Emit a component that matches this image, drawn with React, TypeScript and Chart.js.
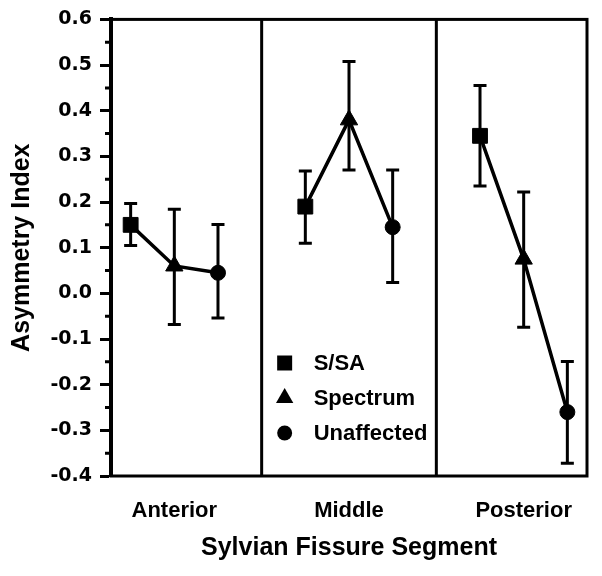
import React, { useEffect, useRef } from 'react';
import { Chart, registerables } from 'chart.js';

Chart.register(...registerables);

// ---- data ----
const categories = ['Anterior', 'Middle', 'Posterior'];
const seriesNames = ['S/SA', 'Spectrum', 'Unaffected'];
const seriesStyles = ['rect', 'triangle', 'circle'];

const ssaMeans = [0.15, 0.19, 0.345];
const ssaLower = [0.105, 0.11, 0.235];
const ssaUpper = [0.197, 0.268, 0.455];

const spectrumMeans = [0.06, 0.38, 0.075];
const spectrumLower = [-0.068, 0.27, -0.074];
const spectrumUpper = [0.184, 0.508, 0.222];

const unaffectedMeans = [0.045, 0.145, -0.26];
const unaffectedLower = [-0.054, 0.024, -0.372];
const unaffectedUpper = [0.151, 0.27, -0.149];

const yTicks = [-0.4, -0.3, -0.2, -0.1, 0.0, 0.1, 0.2, 0.3, 0.4, 0.5, 0.6];
const yMinorTicks = [-0.35, -0.25, -0.15, -0.05, 0.05, 0.15, 0.25, 0.35, 0.45, 0.55];

const means = [ssaMeans, spectrumMeans, unaffectedMeans];
const lowers = [ssaLower, spectrumLower, unaffectedLower];
const uppers = [ssaUpper, spectrumUpper, unaffectedUpper];

// x layout: each segment occupies 4 units; series offset 0,1,2 inside it
const GROUP = 4;
const xOf = (ci: number, si: number) => ci * GROUP + si;
const dividers = [GROUP - 1, 2 * GROUP - 1];

const FONT = 'Liberation Sans, Arial, Helvetica, sans-serif';
const radiusFor: Record<string, number> = { rect: 10.5, triangle: 10, circle: 7.5 };

function drawMarker(ctx: CanvasRenderingContext2D, style: string, x: number, y: number) {
  ctx.beginPath();
  if (style === 'rect') {
    ctx.rect(x - 7.5, y - 7.5, 15, 15);
  } else if (style === 'triangle') {
    const r = 10;
    ctx.moveTo(x, y - r);
    ctx.lineTo(x + r * Math.sin(Math.PI / 3), y + r / 2);
    ctx.lineTo(x - r * Math.sin(Math.PI / 3), y + r / 2);
    ctx.closePath();
  } else {
    ctx.arc(x, y, 7.5, 0, Math.PI * 2);
  }
  ctx.fill();
}

const errorBarPlugin = {
  id: 'errorBars',
  beforeDatasetsDraw(chart: any) {
    const { ctx } = chart;
    const x = chart.scales.x;
    const y = chart.scales.y;
    ctx.save();
    ctx.strokeStyle = '#000';
    ctx.lineWidth = 3;
    ctx.lineCap = 'butt';
    means.forEach((_, si) => {
      categories.forEach((__, ci) => {
        const px = x.getPixelForValue(xOf(ci, si));
        const yl = y.getPixelForValue(lowers[si][ci]);
        const yu = y.getPixelForValue(uppers[si][ci]);
        ctx.beginPath();
        ctx.moveTo(px, yl);
        ctx.lineTo(px, yu);
        ctx.moveTo(px - 6.5, yl);
        ctx.lineTo(px + 6.5, yl);
        ctx.moveTo(px - 6.5, yu);
        ctx.lineTo(px + 6.5, yu);
        ctx.stroke();
      });
    });
    ctx.restore();
  },
};

const framePlugin = {
  id: 'frame',
  afterDatasetsDraw(chart: any) {
    const { ctx, chartArea: a } = chart;
    const x = chart.scales.x;
    const y = chart.scales.y;
    ctx.save();
    ctx.strokeStyle = '#000';
    ctx.lineWidth = 3;
    ctx.strokeRect(a.left, a.top, a.right - a.left, a.bottom - a.top);
    ctx.beginPath();
    dividers.forEach((d) => {
      const px = x.getPixelForValue(d);
      ctx.moveTo(px, a.top);
      ctx.lineTo(px, a.bottom);
    });
    ctx.stroke();
    // minor ticks
    ctx.lineWidth = 3;
    ctx.beginPath();
    yMinorTicks.forEach((v) => {
      const py = y.getPixelForValue(v);
      ctx.moveTo(a.left - 6, py);
      ctx.lineTo(a.left, py);
    });
    ctx.stroke();
    ctx.restore();
  },
};

const legendPlugin = {
  id: 'insideLegend',
  afterDraw(chart: any) {
    const { ctx } = chart;
    const x = chart.scales.x;
    const baseX = x.getPixelForValue(dividers[0]);
    const markerX = baseX + 23;
    const textX = baseX + 52;
    const rowY = [363, 398, 433];
    ctx.save();
    ctx.fillStyle = '#000';
    ctx.font = `bold 22px ${FONT}`;
    ctx.textBaseline = 'middle';
    ctx.textAlign = 'left';
    seriesNames.forEach((name, si) => {
      drawMarker(ctx, seriesStyles[si], markerX, rowY[si]);
      ctx.fillText(name, textX, rowY[si] + 1);
    });
    ctx.restore();
  },
};

export default function App() {
  const canvasRef = useRef<HTMLCanvasElement | null>(null);

  useEffect(() => {
    if (!canvasRef.current) return;
    Chart.defaults.font.family = FONT;
    Chart.defaults.color = '#000';

    const lineDatasets = categories.map((cat, ci) => ({
      type: 'line' as const,
      label: cat,
      data: seriesNames.map((_, si) => ({ x: xOf(ci, si), y: means[si][ci] })),
      borderColor: '#000',
      borderWidth: 3.5,
      pointRadius: 0,
      showLine: true,
      fill: false,
      tension: 0,
      order: 2,
    }));

    const markerDatasets = seriesNames.map((name, si) => ({
      type: 'scatter' as const,
      label: name,
      data: categories.map((_, ci) => ({ x: xOf(ci, si), y: means[si][ci] })),
      pointStyle: seriesStyles[si],
      pointRadius: radiusFor[seriesStyles[si]],
      pointBackgroundColor: '#000',
      pointBorderColor: '#000',
      pointBorderWidth: 1,
      showLine: false,
      order: 0,
    }));

    const chart = new Chart(canvasRef.current, {
      type: 'scatter',
      data: { datasets: [...markerDatasets, ...lineDatasets] as any },
      options: {
        animation: false,
        responsive: false,
        devicePixelRatio: 1,
        layout: { padding: { top: 15, right: 15, left: 0, bottom: 0 } },
        plugins: {
          legend: { display: false },
          tooltip: { enabled: false },
        },
        scales: {
          x: {
            type: 'linear',
            min: -0.45,
            max: 10.45,
            afterBuildTicks: (s: any) => {
              s.ticks = categories.map((_, ci) => ({ value: xOf(ci, 1) }));
            },
            afterFit: (s: any) => {
              s.height = 100;
            },
            ticks: {
              autoSkip: false,
              maxRotation: 0,
              padding: 22,
              color: '#000',
              font: { family: FONT, size: 22, weight: 'bold' },
              callback: (v: any) => categories[Math.round((Number(v) - 1) / GROUP)],
            },
            grid: { display: false, drawTicks: false },
            border: { display: false },
            title: {
              display: true,
              text: 'Sylvian Fissure Segment',
              color: '#000',
              font: { family: FONT, size: 25, weight: 'bold' },
              padding: { top: 0, bottom: 13 },
            },
          },
          y: {
            type: 'linear',
            min: -0.4,
            max: 0.6,
            afterBuildTicks: (s: any) => {
              s.ticks = yTicks.map((v) => ({ value: v }));
            },
            afterFit: (s: any) => {
              s.width = 111;
            },
            ticks: {
              padding: 8,
              color: '#000',
              font: { family: 'DejaVu Sans', size: 19, weight: 'bold' },
              callback: (v: any) => (Math.round(Number(v) * 10) / 10 + 0).toFixed(1),
            },
            grid: {
              drawOnChartArea: false,
              drawTicks: true,
              tickLength: 11,
              tickWidth: 3,
              tickColor: '#000',
              color: '#000',
            },
            border: { display: true, width: 4, color: '#000' },
            title: {
              display: true,
              text: 'Asymmetry Index',
              color: '#000',
              font: { family: FONT, size: 25, weight: 'bold' },
              padding: { top: 7, bottom: 0 },
            },
          },
        },
      },
      plugins: [errorBarPlugin, framePlugin, legendPlugin],
    } as any);

    return () => chart.destroy();
  }, []);

  return (
    <div style={{ position: 'absolute', left: 0, top: 0, width: 602, height: 576, background: '#fff' }}>
      <canvas ref={canvasRef} width={602} height={576} style={{ display: 'block', width: 602, height: 576 }} />
    </div>
  );
}
